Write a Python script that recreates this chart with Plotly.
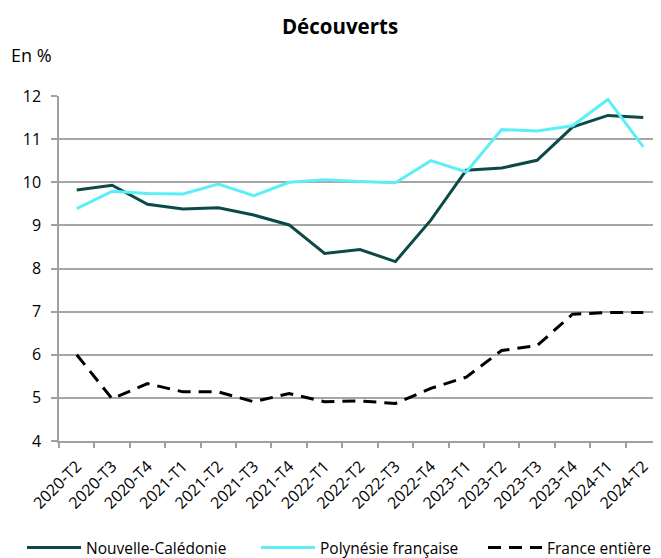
import plotly.graph_objects as go

categories = ["2020-T2", "2020-T3", "2020-T4", "2021-T1", "2021-T2", "2021-T3", "2021-T4",
              "2022-T1", "2022-T2", "2022-T3", "2022-T4", "2023-T1", "2023-T2", "2023-T3",
              "2023-T4", "2024-T1", "2024-T2"]

nouvelle_caledonie = [9.82, 9.93, 9.49, 9.38, 9.41, 9.24, 9.01, 8.35, 8.44, 8.16, 9.12,
                      10.28, 10.33, 10.51, 11.28, 11.55, 11.50]
polynesie = [9.39, 9.79, 9.74, 9.73, 9.96, 9.69, 10.00, 10.06, 10.02, 9.99, 10.50,
             10.24, 11.22, 11.19, 11.31, 11.92, 10.82]
france = [6.00, 4.98, 5.33, 5.14, 5.14, 4.91, 5.10, 4.91, 4.93, 4.87, 5.22,
          5.48, 6.10, 6.21, 6.94, 6.98, 6.98]

y_ticks = [4, 5, 6, 7, 8, 9, 10, 11, 12]

FONT = "Open Sans"
# the page body has an 8px default margin: figure coords = window coords - 8
W, H = 653, 550
ML, MR, MT, MB = 51, 0, 88, 116.5
PW, PH = W - ML - MR, H - MT - MB

fig = go.Figure()
fig.add_trace(go.Scatter(x=categories, y=nouvelle_caledonie, mode="lines",
                         name="Nouvelle-Calédonie", legend="legend",
                         line=dict(color="#0B4A48", width=3)))
fig.add_trace(go.Scatter(x=categories, y=polynesie, mode="lines",
                         name="Polynésie française", legend="legend2",
                         line=dict(color="#5CEFF7", width=3)))
fig.add_trace(go.Scatter(x=categories, y=france, mode="lines",
                         name="France entière", legend="legend3",
                         line=dict(color="#000000", width=3, dash="13px,8px")))

legend_common = dict(orientation="h", xref="container", yref="container",
                     xanchor="left", y=10 / H, yanchor="middle",
                     font=dict(family=FONT, size=15.5), bgcolor="rgba(0,0,0,0)",
                     itemwidth=54)

fig.update_layout(
    width=W, height=H,
    margin=dict(l=ML, r=MR, t=MT, b=MB, autoexpand=False),
    paper_bgcolor="white", plot_bgcolor="white",
    font=dict(family=FONT, size=15, color="#000000"),
    title=dict(text="<b>Découverts</b>", x=332 / W, xanchor="center",
               xref="container", yref="container",
               y=1 - 19 / H, yanchor="middle",
               font=dict(family=FONT, size=20.5, color="#000000")),
    showlegend=True,
    legend=dict(legend_common, x=14 / W),
    legend2=dict(legend_common, x=248 / W),
    legend3=dict(legend_common, x=475 / W),
    annotations=[dict(text="En %", xref="paper", yref="paper",
                      x=(1 - ML) / PW, xanchor="left",
                      y=1 + (MT - 47) / PH, yanchor="middle",
                      showarrow=False, font=dict(family=FONT, size=18))],
)

fig.update_xaxes(
    type="category", tickangle=-45, showgrid=False, automargin=False,
    showline=True, linecolor="#A0A0A0", linewidth=1.5,
    ticks="outside", ticklen=5, tickcolor="#A0A0A0", tickwidth=1.5,
    tickson="boundaries", ticklabelstandoff=8,
    tickfont=dict(family=FONT, size=16),
    range=[-0.5, len(categories) - 0.5],
)
fig.update_yaxes(
    range=[4, 12], tickvals=y_ticks, automargin=False,
    showgrid=True, gridcolor="#A6A6A6", gridwidth=1.5,
    showline=True, linecolor="#A0A0A0", linewidth=1.5,
    ticks="outside", ticklen=6, tickcolor="#A0A0A0", tickwidth=1.5,
    zeroline=False, ticklabelstandoff=7,
    tickfont=dict(family=FONT, size=16),
)

fig.write_html("out.html")
